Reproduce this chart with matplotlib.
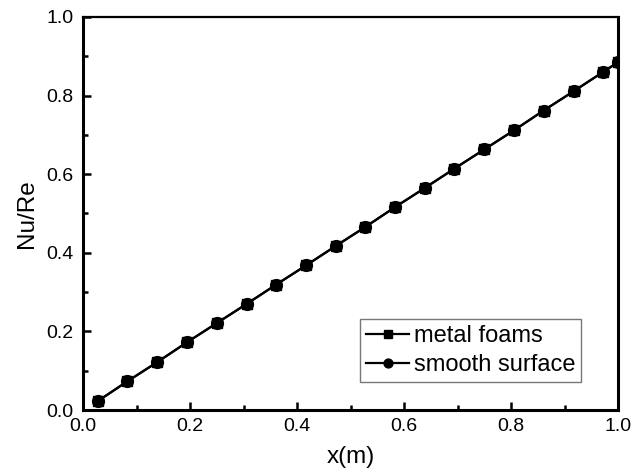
import matplotlib
matplotlib.use("Agg")
import matplotlib.pyplot as plt
from matplotlib.ticker import MultipleLocator

plt.rcParams['font.family'] = ['Liberation Sans', 'DejaVu Sans']

x = [0.028, 0.083, 0.139, 0.194, 0.250, 0.306, 0.361, 0.417, 0.472, 0.528,
     0.583, 0.639, 0.694, 0.750, 0.806, 0.861, 0.917, 0.972, 1.000]
metal_foams = [0.023, 0.073, 0.122, 0.172, 0.221, 0.270, 0.319, 0.368, 0.417, 0.466,
               0.516, 0.565, 0.614, 0.663, 0.712, 0.762, 0.811, 0.860, 0.885]
smooth_surface = [0.023, 0.073, 0.122, 0.172, 0.221, 0.270, 0.319, 0.368, 0.417, 0.466,
                  0.516, 0.565, 0.614, 0.663, 0.712, 0.762, 0.811, 0.860, 0.885]

fig = plt.figure(figsize=(6.42, 4.73), dpi=100)
ax = fig.add_axes([83/642, 1 - 410/473, 535/642, 393/473])

ax.plot(x, metal_foams, color='black', lw=1.6, marker='s', ms=7.5, label='metal foams')
ax.plot(x, smooth_surface, color='black', lw=1.6, marker='o', ms=8.5, label='smooth surface')

ax.set_xlim(0, 1.0)
ax.set_ylim(0, 1.0)
ax.xaxis.set_major_locator(MultipleLocator(0.2))
ax.xaxis.set_minor_locator(MultipleLocator(0.1))
ax.yaxis.set_major_locator(MultipleLocator(0.2))
ax.yaxis.set_minor_locator(MultipleLocator(0.1))
ax.xaxis.set_major_formatter(plt.FuncFormatter(lambda v, p: f"{v:.1f}"))
ax.yaxis.set_major_formatter(plt.FuncFormatter(lambda v, p: f"{v:.1f}"))
ax.tick_params(which='both', direction='in', width=1.8, labelsize=14)
ax.tick_params(axis='y', which='major', length=6, pad=7)
ax.tick_params(axis='x', which='major', length=6, pad=6)
ax.tick_params(which='minor', length=3.5)
ax.tick_params(top=False, right=False, which='both')
for name, s in ax.spines.items():
    s.set_linewidth(2.2)
ax.spines['top'].set_linewidth(1.6)

ax.set_xlabel('x(m)', fontsize=17.5, labelpad=8)
ax.set_ylabel('Nu/Re', fontsize=17.5, labelpad=6)

leg = ax.legend(loc='lower right', bbox_to_anchor=(498/535, 28/393), fontsize=17,
                frameon=True, fancybox=False, edgecolor='#555555', handlelength=1.8,
                markerscale=0.75, borderpad=0.25, labelspacing=0.3, handletextpad=0.2,
                borderaxespad=0)
leg.get_frame().set_linewidth(1.0)

fig.savefig('out.png', dpi=100)
